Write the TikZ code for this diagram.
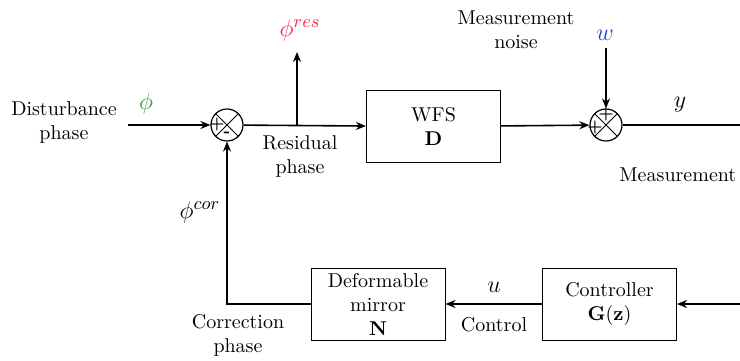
\documentclass[tikz,border=0pt]{standalone}
\usepackage{amsmath,amssymb}
\usepackage{tikz}
\usepackage{xcolor}
\usetikzlibrary{arrows.meta,positioning,calc}
\definecolor{distcol}{HTML}{2E9E3E}
\definecolor{rescol}{HTML}{F0283C}
\definecolor{noisecol}{HTML}{1F3FE0}
\tikzset{
  block/.style={draw=black, line width=0.5pt, minimum width=67pt,
                minimum height=36pt, align=center, inner sep=2pt},
  sumnode/.style={circle, draw=black, line width=0.6pt, minimum size=16pt,
                  inner sep=0pt},
  signal/.style={-{Stealth[length=5pt,width=4pt]}, line width=0.8pt},
  wire/.style={line width=0.8pt},
  caption/.style={align=center, inner sep=1pt},
  sign/.style={font=\footnotesize\bfseries, inner sep=0pt},
  signame/.style={font=\fontsize{13}{15}\selectfont, inner sep=1pt}
}

\begin{document}
\begin{tikzpicture}[x=0.5pt,y=-0.5pt]
    \clip (0,0) rectangle (740,360);

    % forward path
    \coordinate (in) at (128,125);
    \node[sumnode] (s1) at (227,125) {};
    \draw[line width=0.5pt] (s1.45) -- (s1.225) (s1.135) -- (s1.315);
    \node[sign] (s1p) at ($(s1.center)+(-10,-1)$) {+};
    \node[sign] (s1m) at ($(s1.center)+(0,9)$) {-};
    \node[block] (wfs) at (433.5,126.5) {WFS\\$\mathbf{D}$};
    \node[sumnode] (s2) at (606,125) {};
    \draw[line width=0.5pt] (s2.45) -- (s2.225) (s2.135) -- (s2.315);
    \node[sign] (s2t) at ($(s2.center)+(0,-11)$) {+};
    \node[sign] (s2l) at ($(s2.center)+(-11,2)$) {+};
    \coordinate (out) at (745,125);
    \coordinate (res) at (297,125);
    \coordinate (restop) at (297,52);
    \coordinate (noise) at (606,48);

    \draw[signal] (in) -- (s1);
    \draw[signal] (s1) -- (wfs);
    \draw[signal] (res) -- (restop);
    \draw[signal] (wfs) -- (s2);
    \draw[signal] (noise) -- (s2);
    \draw[wire] (s2) -- (out);

    % feedback path
    \node[block] (ctrl) at (609.5,304) {Controller\\$\mathbf{G(z)}$};
    \node[block] (dm) at (378,304) {Deformable\\mirror\\$\mathbf{N}$};
    \coordinate (meas) at (745,304);
    \coordinate (corner) at (227,304);
    \draw[signal] (meas) -- (ctrl);
    \draw[signal] (ctrl) -- (dm);
    \draw[signal] (dm) -- (corner) -- (s1);

    % labels
    \node[caption] (disttxt) at (64,122) {Disturbance\\phase};
    \node[signame, text=distcol] (phi) at (146,103) {$\phi$};
    \node[signame, text=rescol] (phires) at (300,30) {$\phi^{res}$};
    \node[caption] (restxt) at (300,156) {Residual\\phase};
    \node[caption] (noisetxt) at (516,30) {Measurement\\noise};
    \node[signame, text=noisecol] (w) at (605,35) {$w$};
    \node[signame] (y) at (680,105) {$y$};
    \node[caption, anchor=west] (meastxt) at (617,175) {Measurement};
    \node[signame] (phicor) at (200,212) {$\phi^{cor}$};
    \node[caption] (cortxt) at (238,335) {Correction\\phase};
    \node[signame] (u) at (494,287) {$u$};
    \node[caption] (ctrltxt) at (494,325) {Control};
\end{tikzpicture}
\end{document}
